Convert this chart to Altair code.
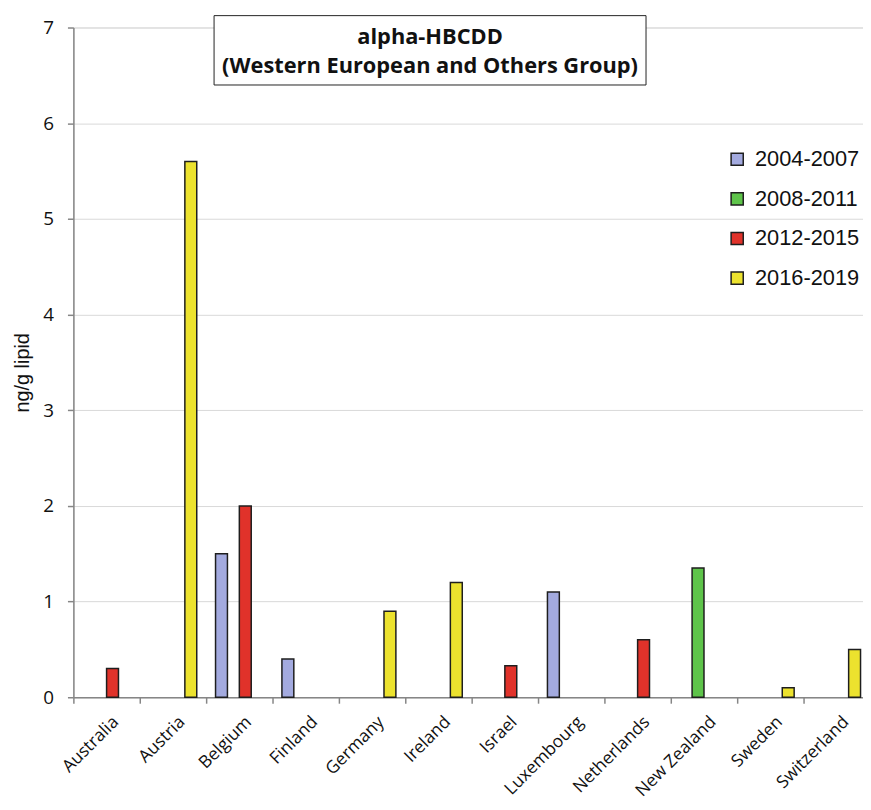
import altair as alt
import pandas as pd

countries = ["Australia", "Austria", "Belgium", "Finland", "Germany", "Ireland",
             "Israel", "Luxembourg", "Netherlands", "New Zealand", "Sweden", "Switzerland"]
periods = ["2004-2007", "2008-2011", "2012-2015", "2016-2019"]

bar_country = ["Australia", "Austria", "Belgium", "Belgium", "Finland", "Germany",
               "Ireland", "Israel", "Luxembourg", "Netherlands", "New Zealand",
               "Sweden", "Switzerland"]
bar_period = ["2012-2015", "2016-2019", "2004-2007", "2012-2015", "2004-2007",
              "2016-2019", "2016-2019", "2012-2015", "2004-2007", "2012-2015",
              "2008-2011", "2016-2019", "2016-2019"]
bar_value = [0.3, 5.6, 1.5, 2.0, 0.4, 0.9, 1.2, 0.33, 1.1, 0.6, 1.35, 0.1, 0.5]

period_colors = ["#a3aadf", "#5ec44a", "#e0322a", "#ece22e"]
y_ticks = [0, 1, 2, 3, 4, 5, 6, 7]
title_lines = ["alpha-HBCDD", "(Western European and Others Group)"]

df = pd.DataFrame({"country": bar_country, "period": bar_period, "value": bar_value})

bars = alt.Chart(df).mark_bar(stroke="#1e1e1e", strokeWidth=1.5).encode(
    x=alt.X("country:N", sort=countries,
            scale=alt.Scale(domain=countries, paddingInner=0, paddingOuter=0, range=[0, 804]),
            axis=alt.Axis(title=None, labelAngle=-45, tickBand="extent",
                          labelFont="Open Sans", labelFontSize=17.5, labelColor="#111",
                          labelPadding=16, labelOffset=9, tickSize=6, tickColor="#868686",
                          domainColor="#868686", domainWidth=1.5, tickWidth=1.5,
                          labelAlign="right", labelBaseline="middle")),
    xOffset=alt.XOffset("period:N",
                        scale=alt.Scale(domain=periods, paddingInner=0, paddingOuter=0.79)),
    y=alt.Y("value:Q", scale=alt.Scale(domain=[0, 7], nice=False),
            axis=alt.Axis(values=y_ticks, title="ng/g lipid", format="d",
                          labelFont="Open Sans", labelFontSize=19, labelColor="#111",
                          labelPadding=14, tickSize=6, tickColor="#868686", tickWidth=1.5,
                          domainColor="#868686", domainWidth=1.5,
                          grid=True, gridColor="#d9d9d9", gridWidth=1,
                          titleFont="Liberation Sans", titleFontSize=20, titleY=348,
                          titleFontWeight="normal", titleColor="#111", titlePadding=10)),
    color=alt.Color("period:N", scale=alt.Scale(domain=periods, range=period_colors),
                    legend=alt.Legend(title=None, orient="none", legendX=659, legendY=122,
                                      symbolType="square", symbolSize=150,
                                      symbolStrokeColor="#1e1e1e", symbolStrokeWidth=1.5,
                                      labelFont="Liberation Sans", labelFontSize=22,
                                      labelColor="#111", labelOffset=7, rowPadding=18,
                                      padding=0)),
)

box_df = pd.DataFrame({"line1": [title_lines[0]], "line2": [title_lines[1]]})
box = alt.Chart(box_df).mark_rect(fill="white", stroke="#222", strokeWidth=1).encode(
    x=alt.value(142), x2=alt.value(578), y=alt.value(-12), y2=alt.value(58))
t1 = alt.Chart(box_df).mark_text(font="Open Sans", fontSize=22, fontWeight="bold",
                                 color="#111", baseline="middle", align="center").encode(
    x=alt.value(360), y=alt.value(10), text="line1:N")
t2 = alt.Chart(box_df).mark_text(font="Open Sans", fontSize=22, fontWeight="bold",
                                 color="#111", baseline="middle", align="center").encode(
    x=alt.value(360), y=alt.value(39), text="line2:N")

chart = alt.layer(bars, box, t1, t2).properties(
    width=797, height=676,
    autosize=alt.AutoSizeParams(type="none"),
    padding={"left": 66, "top": 16, "right": 0, "bottom": 100},
).configure_view(stroke=None).configure(background="white")

chart.save("out.html", embed_options={"renderer": "svg", "actions": False})
